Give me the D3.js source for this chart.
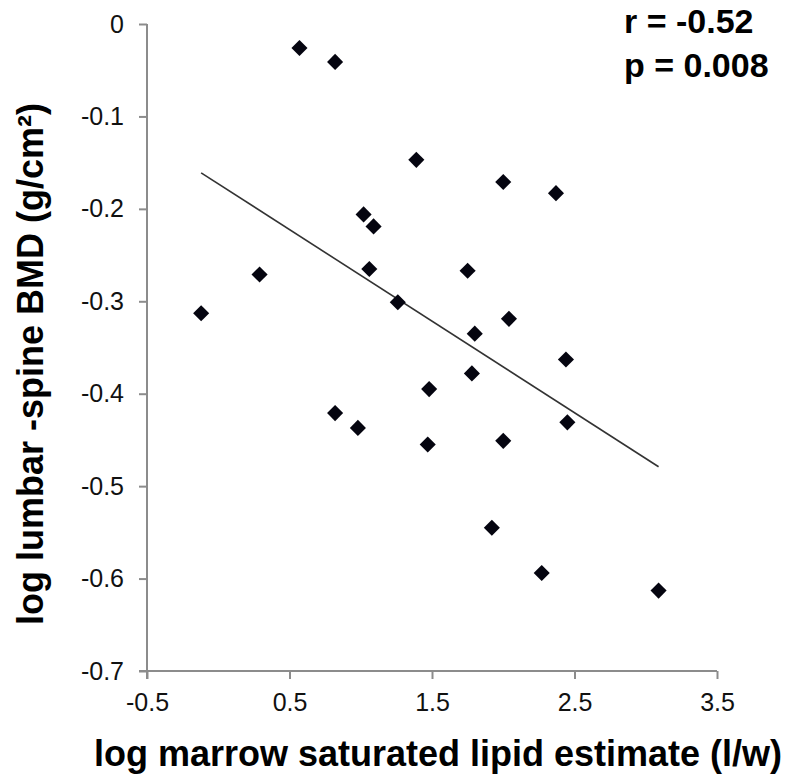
<!DOCTYPE html>
<html>
<head>
<meta charset="utf-8">
<script src="https://cdn.jsdelivr.net/npm/d3@7"></script>
<style>
  body { margin: 0; background: #fff; }
  svg { display: block; font-family: Arial, "Liberation Sans", sans-serif; }
</style>
</head>
<body>
<div id="chart"></div>
<script>
// Data
const lipidLog = [-0.12, 0.29, 0.57, 0.82, 1.39, 1.02, 1.09, 1.06, 1.26, 1.48, 0.82, 0.98, 1.47,
                  2.00, 2.37, 1.75, 2.04, 1.80, 2.44, 1.78, 2.00, 2.45, 1.92, 2.27, 3.09];
const bmdLog   = [-0.313, -0.271, -0.026, -0.041, -0.147, -0.206, -0.219, -0.265, -0.301, -0.395, -0.421, -0.437, -0.455,
                  -0.171, -0.183, -0.267, -0.319, -0.335, -0.363, -0.378, -0.451, -0.431, -0.545, -0.594, -0.613];
const trendX = [-0.12, 3.09];
const trendY = [-0.161, -0.479];
const xTicks = [-0.5, 0.5, 1.5, 2.5, 3.5];
const yTicks = [0, -0.1, -0.2, -0.3, -0.4, -0.5, -0.6, -0.7];
const statLines = ["r = -0.52", "p = 0.008"];

const width = 787, height = 779;
const svg = d3.select("#chart").append("svg")
    .attr("width", width)
    .attr("height", height);

const x = d3.scaleLinear().domain([-0.5, 3.5]).range([147, 717]);
const y = d3.scaleLinear().domain([-0.7, 0]).range([671, 24]);

const axisColor = "#8c8c8c";
// plain hyphen instead of d3's unicode minus
const fmt = d => (d === 0 ? "0" : d.toFixed(1));

// Y axis
const yAxis = svg.append("g")
    .attr("transform", `translate(${x(-0.5)},0)`)
    .call(d3.axisLeft(y).tickValues(yTicks).tickFormat(fmt).tickSize(8).tickPadding(15));
yAxis.select(".domain").attr("stroke", axisColor).attr("stroke-width", 2)
    .attr("d", `M0,${y(0)}V${y(-0.7) + 8}`);
yAxis.selectAll(".tick line").attr("stroke", axisColor).attr("stroke-width", 2);
yAxis.selectAll(".tick text").attr("fill", "#111").style("font-size", "25px")
    .style("font-family", "Arial, 'Liberation Sans', sans-serif");

// X axis
const xAxis = svg.append("g")
    .attr("transform", `translate(0,${y(-0.7)})`)
    .call(d3.axisBottom(x).tickValues(xTicks).tickFormat(d => d.toFixed(1)).tickSize(8).tickPadding(14));
xAxis.select(".domain").attr("stroke", axisColor).attr("stroke-width", 2)
    .attr("d", `M${x(-0.5) - 8},0H${x(3.5)}`);
xAxis.selectAll(".tick line").attr("stroke", axisColor).attr("stroke-width", 2);
xAxis.selectAll(".tick text").attr("fill", "#111").style("font-size", "25px")
    .style("font-family", "Arial, 'Liberation Sans', sans-serif");

// Trend line
svg.append("line")
    .attr("x1", x(trendX[0])).attr("y1", y(trendY[0]))
    .attr("x2", x(trendX[1])).attr("y2", y(trendY[1]))
    .attr("stroke", "#333")
    .attr("stroke-width", 1.6);

// Points (diamonds)
const pts = lipidLog.map((v, i) => ({ x: v, y: bmdLog[i] }));
svg.append("g").selectAll("path")
    .data(pts)
    .enter().append("path")
    .attr("d", d3.symbol().type(d3.symbolDiamond2).size(165))
    .attr("transform", d => `translate(${x(d.x)},${y(d.y)})`)
    .attr("fill", "#050510");

// Axis titles
svg.append("text")
    .attr("x", 438).attr("y", 766)
    .attr("text-anchor", "middle")
    .style("font-size", "36px").style("font-weight", "bold")
    .attr("fill", "#000")
    .text("log marrow saturated lipid estimate (l/w)");

svg.append("text")
    .attr("transform", "translate(43,364) rotate(-90)")
    .attr("text-anchor", "middle")
    .style("font-size", "36px").style("font-weight", "bold")
    .attr("fill", "#000")
    .text("log lumbar -spine BMD (g/cm²)");

// Stats
svg.append("g").selectAll("text")
    .data(statLines)
    .enter().append("text")
    .attr("x", 624)
    .attr("y", (d, i) => 33 + i * 44)
    .style("font-size", "34px").style("font-weight", "bold")
    .attr("fill", "#000")
    .text(d => d);
</script>
</body>
</html>
